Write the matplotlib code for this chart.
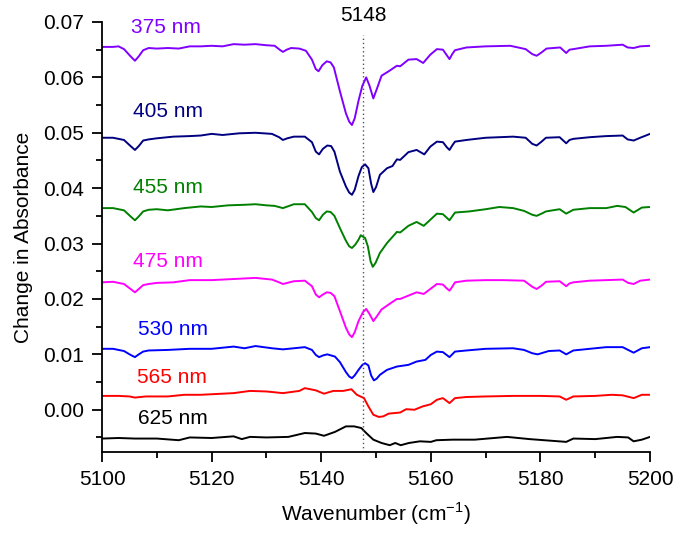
import matplotlib
matplotlib.use("Agg")
import matplotlib.pyplot as plt
from matplotlib.ticker import MultipleLocator, FormatStrFormatter
import numpy as np

plt.rcParams["font.family"] = ["Liberation Sans", "DejaVu Sans"]
plt.rcParams["mathtext.fontset"] = "custom"
plt.rcParams["mathtext.rm"] = "Liberation Sans"

# (wavenumber, change in absorbance)
S375 = [(5100, 0.0655), (5102, 0.0655), (5103, 0.0656), (5104, 0.0651), (5105.2, 0.0638), (5106, 0.0630),
        (5106.7, 0.0638), (5107.5, 0.0649), (5108.5, 0.0653), (5110, 0.0652), (5112, 0.0653), (5114, 0.0652),
        (5116, 0.0656), (5118, 0.0656), (5120, 0.0657), (5122, 0.0656), (5124, 0.0660), (5126, 0.0659),
        (5128, 0.0660), (5130, 0.0658), (5131.5, 0.0657), (5132.4, 0.0650), (5133, 0.0646), (5133.7, 0.0650),
        (5134.5, 0.0653), (5136, 0.0652), (5137.2, 0.0648), (5138.3, 0.0632), (5139, 0.0615), (5139.5, 0.0611),
        (5140.2, 0.0622), (5141, 0.0629), (5141.7, 0.0627), (5142.3, 0.0618), (5143.4, 0.0575), (5144.5, 0.0535),
        (5145.1, 0.0520), (5145.6, 0.0514), (5146.1, 0.0526), (5146.8, 0.0558), (5147.5, 0.0585), (5148.2, 0.0600),
        (5148.8, 0.0585), (5149.5, 0.0562), (5150.1, 0.0578), (5151.0, 0.0603), (5152.3, 0.0611), (5153.8, 0.0621),
        (5154.4, 0.0620), (5155.9, 0.0632), (5157.4, 0.0633), (5158.6, 0.0626), (5159.9, 0.0641), (5161.1, 0.0651),
        (5162.2, 0.0650), (5162.9, 0.0640), (5163.4, 0.0633), (5163.9, 0.0642), (5164.4, 0.0649), (5166.5, 0.0654),
        (5170, 0.0656), (5174.5, 0.0657), (5177.3, 0.0651), (5178.5, 0.0642), (5179.3, 0.0639), (5180.2, 0.0645),
        (5181.1, 0.0652), (5183.6, 0.0654), (5184.7, 0.0644), (5185.3, 0.0650), (5186, 0.0651), (5189, 0.0656),
        (5192, 0.0657), (5195, 0.0659), (5195.9, 0.0654), (5197, 0.0653), (5198.2, 0.0656), (5200, 0.0657)]

S405 = [(5100, 0.0491), (5102, 0.0491), (5104, 0.0487), (5105.2, 0.0476), (5106, 0.0469), (5106.7, 0.0476),
        (5107.5, 0.0486), (5108.5, 0.0488), (5110, 0.0490), (5113, 0.0493), (5116, 0.0494), (5118, 0.0495),
        (5120, 0.0498), (5122, 0.0496), (5125, 0.0499), (5128, 0.0500), (5131, 0.0498), (5132.3, 0.0492),
        (5133, 0.0487), (5133.8, 0.0490), (5135, 0.0493), (5137, 0.0493), (5138.3, 0.0483), (5139, 0.0466),
        (5139.6, 0.0461), (5140.3, 0.0471), (5141.1, 0.0477), (5141.8, 0.0476), (5142.4, 0.0466), (5143.4, 0.0430),
        (5144.5, 0.0403), (5145.1, 0.0392), (5145.6, 0.0388), (5146.1, 0.0397), (5146.8, 0.0422), (5147.4, 0.0438),
        (5148.0, 0.0443), (5148.6, 0.0436), (5149.1, 0.0408), (5149.5, 0.0393), (5150.0, 0.0402), (5150.7, 0.0424),
        (5152.0, 0.0436), (5153.0, 0.0440), (5153.8, 0.0452), (5154.4, 0.0451), (5155.9, 0.0465), (5157.4, 0.0469),
        (5158.8, 0.0461), (5159.9, 0.0475), (5161.1, 0.0484), (5162.2, 0.0483), (5162.9, 0.0474), (5163.4, 0.0469),
        (5163.9, 0.0477), (5164.4, 0.0484), (5166.5, 0.0487), (5170, 0.0491), (5175, 0.0493), (5177.3, 0.0491),
        (5178.5, 0.0480), (5179.3, 0.0477), (5180.2, 0.0484), (5181, 0.0491), (5183.5, 0.0492), (5184.7, 0.0481),
        (5185.3, 0.0487), (5186, 0.0489), (5189, 0.0492), (5192, 0.0494), (5195, 0.0495), (5195.9, 0.0488),
        (5197, 0.0486), (5198.2, 0.0491), (5200, 0.0498)]

S455 = [(5100, 0.0364), (5102, 0.0364), (5104, 0.0360), (5105.2, 0.0349), (5106, 0.0342), (5106.7, 0.0349),
        (5107.5, 0.0358), (5108.5, 0.0361), (5110, 0.0362), (5112, 0.0360), (5115, 0.0364), (5118, 0.0367),
        (5120, 0.0366), (5123, 0.0369), (5126, 0.0370), (5128, 0.0371), (5130, 0.0369), (5131.5, 0.0368),
        (5133, 0.0364), (5135, 0.0371), (5137, 0.0371), (5138.3, 0.0357), (5139, 0.0346), (5139.6, 0.0342),
        (5140.3, 0.0352), (5141.0, 0.0358), (5141.7, 0.0357), (5142.4, 0.0350), (5143.4, 0.0328), (5144.5, 0.0305),
        (5145.1, 0.0295), (5145.6, 0.0292), (5146.2, 0.0298), (5146.8, 0.0307), (5147.2, 0.0315), (5148.0, 0.0310),
        (5148.5, 0.0295), (5149.0, 0.0268), (5149.4, 0.0258), (5149.9, 0.0265), (5150.7, 0.0283), (5152.0, 0.0301),
        (5153.8, 0.0321), (5154.4, 0.0320), (5155.9, 0.0332), (5157.4, 0.0339), (5158.7, 0.0332), (5159.9, 0.0343),
        (5161.1, 0.0354), (5162.2, 0.0353), (5163.4, 0.0342), (5164.4, 0.0356), (5167, 0.0358), (5170, 0.0362),
        (5172.5, 0.0366), (5175, 0.0364), (5177, 0.0359), (5178.5, 0.0352), (5179.3, 0.0350), (5180.2, 0.0354),
        (5181, 0.0358), (5183.5, 0.0362), (5184.7, 0.0354), (5186, 0.0361), (5189, 0.0364), (5192, 0.0364),
        (5194, 0.0368), (5195.5, 0.0366), (5197, 0.0356), (5198.5, 0.0365), (5200, 0.0366)]

S475 = [(5100, 0.0230), (5102, 0.0231), (5104, 0.0227), (5105.2, 0.0218), (5106, 0.0212), (5106.7, 0.0218),
        (5107.5, 0.0225), (5108.5, 0.0227), (5110, 0.0229), (5113, 0.0230), (5116, 0.0234), (5120, 0.0234),
        (5124, 0.0236), (5128, 0.0238), (5131, 0.0235), (5132.3, 0.0230), (5133, 0.0227), (5133.8, 0.0229),
        (5135, 0.0232), (5137, 0.0233), (5138.3, 0.0223), (5139, 0.0208), (5139.6, 0.0203), (5140.3, 0.0208),
        (5141.0, 0.0212), (5141.7, 0.0211), (5142.4, 0.0205), (5143.4, 0.0178), (5144.5, 0.0148), (5145.1, 0.0136),
        (5145.6, 0.0131), (5146.1, 0.0140), (5146.8, 0.0160), (5147.6, 0.0176), (5148.2, 0.0182), (5148.8, 0.0173),
        (5149.5, 0.0160), (5150.1, 0.0168), (5151.0, 0.0181), (5152.3, 0.0190), (5153.8, 0.0200), (5154.4, 0.0200),
        (5155.9, 0.0206), (5157.4, 0.0212), (5158.7, 0.0209), (5159.9, 0.0218), (5161.1, 0.0227), (5162.2, 0.0226),
        (5162.9, 0.0219), (5163.4, 0.0215), (5163.9, 0.0222), (5164.4, 0.0230), (5166.5, 0.0233), (5170, 0.0234),
        (5173, 0.0234), (5177, 0.0233), (5178.5, 0.0222), (5179.3, 0.0218), (5180.2, 0.0224), (5181, 0.0231),
        (5183.5, 0.0232), (5184.7, 0.0223), (5185.3, 0.0228), (5186, 0.0230), (5189, 0.0233), (5192, 0.0234),
        (5195, 0.0235), (5196, 0.0229), (5197, 0.0227), (5198.2, 0.0233), (5200, 0.0235)]

S530 = [(5100, 0.0110), (5102, 0.0110), (5104, 0.0106), (5105.2, 0.0099), (5106, 0.0095), (5106.7, 0.0100),
        (5107.5, 0.0105), (5108.5, 0.0107), (5112, 0.0108), (5116, 0.0110), (5120, 0.0110), (5124, 0.0114),
        (5126, 0.0111), (5128, 0.0115), (5131, 0.0111), (5133, 0.0109), (5135, 0.0111), (5137, 0.0113),
        (5138.3, 0.0108), (5139, 0.0099), (5139.6, 0.0095), (5140.3, 0.0098), (5141.1, 0.0100), (5142.5, 0.0096),
        (5143.4, 0.0086), (5144.5, 0.0068), (5145.1, 0.0060), (5145.6, 0.0057), (5146.1, 0.0062), (5146.8, 0.0072),
        (5147.5, 0.0081), (5148.0, 0.0084), (5148.6, 0.0080), (5149.1, 0.0062), (5149.6, 0.0053), (5150.1, 0.0056),
        (5150.7, 0.0063), (5152.0, 0.0072), (5153.8, 0.0078), (5155.9, 0.0081), (5157.4, 0.0087), (5159.0, 0.0090),
        (5160.0, 0.0099), (5161.1, 0.0105), (5162.2, 0.0104), (5163.4, 0.0095), (5164.4, 0.0105), (5166.5, 0.0107),
        (5170, 0.0110), (5175, 0.0111), (5177, 0.0108), (5178.5, 0.0102), (5179.5, 0.0100), (5180.5, 0.0103),
        (5181.5, 0.0106), (5183.5, 0.0107), (5184.7, 0.0100), (5186, 0.0107), (5189, 0.0110), (5192, 0.0113),
        (5195, 0.0113), (5197, 0.0103), (5198.5, 0.0111), (5200, 0.0113)]

S565 = [(5100, 0.0025), (5103, 0.0025), (5105, 0.0024), (5106, 0.0022), (5108, 0.0024), (5112, 0.0024),
        (5115, 0.0027), (5118, 0.0027), (5120, 0.0028), (5124, 0.0030), (5127, 0.0034), (5130, 0.0033),
        (5133, 0.0030), (5136, 0.0034), (5137, 0.0039), (5139, 0.0035), (5140.5, 0.0029), (5142.2, 0.0034),
        (5144, 0.0034), (5145.5, 0.0037), (5146.5, 0.0027), (5147.8, 0.0021), (5148.6, 0.0006), (5149.5, -0.0009),
        (5150.5, -0.0013), (5151.3, -0.0012), (5152.3, -0.0007), (5154.4, -0.0005), (5155.5, 0.0001), (5157, 0.0000),
        (5158.5, 0.0006), (5160, 0.0010), (5161.1, 0.0018), (5162.2, 0.0021), (5163.4, 0.0012), (5164.4, 0.0021),
        (5166.5, 0.0023), (5170, 0.0024), (5175, 0.0025), (5180, 0.0025), (5183.5, 0.0024), (5184.7, 0.0018),
        (5186, 0.0024), (5190, 0.0025), (5193, 0.0027), (5195, 0.0026), (5197, 0.0021), (5198.5, 0.0027),
        (5200, 0.0027)]

S625 = [(5100, -0.0052), (5103, -0.0051), (5106, -0.0052), (5110, -0.0052), (5114, -0.0055), (5116, -0.0050),
        (5120, -0.0051), (5124, -0.0048), (5125.5, -0.0053), (5127, -0.0049), (5130, -0.0050), (5134, -0.0049),
        (5137, -0.0042), (5139, -0.0043), (5140.5, -0.0047), (5142.5, -0.0040), (5144.5, -0.0030), (5146, -0.0030),
        (5147.3, -0.0033), (5148.2, -0.0042), (5149.5, -0.0054), (5151, -0.0060), (5152.5, -0.0064), (5153.5, -0.0060),
        (5154.5, -0.0064), (5156, -0.0060), (5158, -0.0057), (5160, -0.0058), (5161, -0.0055), (5164, -0.0054),
        (5168, -0.0054), (5173.9, -0.0049), (5178, -0.0053), (5184.7, -0.0058), (5186, -0.0052), (5190, -0.0053),
        (5194, -0.0049), (5196, -0.0050), (5197, -0.0057), (5198.5, -0.0054), (5200, -0.0049)]

SERIES = [S375, S405, S455, S475, S530, S565, S625]
NAMES = ["375 nm", "405 nm", "455 nm", "475 nm", "530 nm", "565 nm", "625 nm"]
COLORS = ["#8000FF", "#000080", "#008000", "#FF00FF", "#0000FF", "#FF0000", "#000000"]
# label anchor positions (data coords)
LABEL_X = [5105.2, 5105.7, 5105.6, 5105.6, 5106.5, 5106.3, 5106.5]
LABEL_Y = [0.0690, 0.0538, 0.0401, 0.0267, 0.0144, 0.0058, -0.0016]

MARK_X = 5147.7
MARK_TOP = 0.0677

fig = plt.figure(figsize=(6.85, 5.36), dpi=100)
ax = fig.add_axes([0.149, 0.157, 0.8, 0.802])

for pts, name, col, lx, ly in zip(SERIES, NAMES, COLORS, LABEL_X, LABEL_Y):
    arr = np.array(pts)
    ax.plot(arr[:, 0], arr[:, 1], color=col, lw=1.4, solid_joinstyle="round")
    ax.text(lx, ly, name, color=col, fontsize=15, ha="left", va="center")

ax.plot([MARK_X, MARK_X], [-0.0076, MARK_TOP], color="#555555", lw=1.0, ls=(0, (1, 2)))
ax.text(MARK_X, 0.0711, "5148", fontsize=15, ha="center", va="center", clip_on=False)

ax.set_xlim(5100, 5200)
ax.set_ylim(-0.0076, 0.070)
ax.xaxis.set_major_locator(MultipleLocator(20))
ax.xaxis.set_minor_locator(MultipleLocator(10))
ax.yaxis.set_major_locator(MultipleLocator(0.01))
ax.yaxis.set_minor_locator(MultipleLocator(0.005))
ax.yaxis.set_major_formatter(FormatStrFormatter("%.2f"))

for side in ("top", "right"):
    ax.spines[side].set_visible(False)
for side in ("left", "bottom"):
    ax.spines[side].set_linewidth(1.3)

ax.tick_params(which="major", direction="out", length=7, width=1.3, labelsize=15, pad=6)
ax.tick_params(which="minor", direction="out", length=4, width=1.3)

ax.set_xlabel(r"Wavenumber (cm$^{\mathregular{-1}}$)", fontsize=15, labelpad=8)
ax.set_ylabel("Change in Absorbance", fontsize=15, labelpad=7)

fig.savefig("out.png", dpi=100)
